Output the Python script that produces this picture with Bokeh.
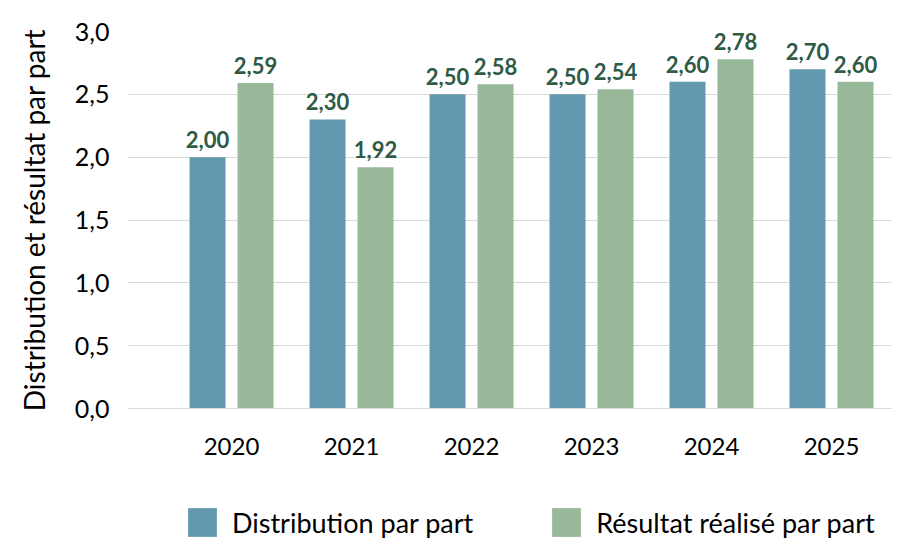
from bokeh.plotting import figure
from bokeh.layouts import column
from bokeh.models import (Range1d, FixedTicker, Legend, LegendItem, ColumnDataSource,
                          CustomJSTickFormatter, LabelSet)
from bokeh.core.properties import value
from bokeh.transform import dodge
from bokeh.embed import file_html
from bokeh.resources import INLINE

years = ["2020", "2021", "2022", "2023", "2024", "2025"]
distribution = [2.00, 2.30, 2.50, 2.50, 2.60, 2.70]
resultat = [2.59, 1.92, 2.58, 2.54, 2.78, 2.60]
y_ticks = [0.0, 0.5, 1.0, 1.5, 2.0, 2.5, 3.0]
series_names = ["Distribution par part", "Résultat réalisé par part"]
y_title = "Distribution et résultat par part"

FONT = "Lato"
BLUE = "#6399AE"
GREEN = "#98B999"
LABEL = "#2E5A46"

xs = list(range(len(years)))
src = ColumnDataSource(dict(
    x=xs,
    dist=distribution,
    res=resultat,
    dist_lbl=[f"{v:.2f}".replace(".", ",") for v in distribution],
    res_lbl=[f"{v:.2f}".replace(".", ",") for v in resultat],
))

p = figure(frame_width=764, frame_height=377,
           x_range=Range1d(-0.867, 5.5), y_range=Range1d(0, 3.0),
           output_backend="svg", toolbar_location=None,
           min_border_left=127, min_border_right=8,
           min_border_top=31, min_border_bottom=56)
p.outline_line_color = None
p.background_fill_color = "white"

r1 = p.vbar(x=dodge("x", -0.2, range=p.x_range), top="dist", width=0.3,
            source=src, fill_color=BLUE, line_color=None)
r2 = p.vbar(x=dodge("x", 0.2, range=p.x_range), top="res", width=0.3,
            source=src, fill_color=GREEN, line_color=None)

for col, lbl, off in (("dist", "dist_lbl", -0.2), ("res", "res_lbl", 0.2)):
    p.add_layout(LabelSet(x=dodge("x", off, range=p.x_range), y=col, text=lbl,
                          source=src, text_align="center",
                          text_baseline="alphabetic", y_offset=9,
                          text_font=value(FONT), text_font_style="bold",
                          text_font_size="22px", text_color=LABEL))

# axes
p.xaxis.ticker = FixedTicker(ticks=xs)
p.xaxis.major_label_overrides = {i: y for i, y in enumerate(years)}
p.xaxis.major_tick_line_color = None
p.xaxis.minor_tick_line_color = None
p.xaxis.axis_line_color = "#D9D9D9"
p.xaxis.major_label_standoff = 23
p.xaxis.major_label_text_font = FONT
p.xaxis.major_label_text_font_size = "24px"
p.xaxis.major_label_text_color = "black"

p.yaxis.ticker = FixedTicker(ticks=y_ticks)
p.yaxis.formatter = CustomJSTickFormatter(code="return tick.toFixed(1).replace('.', ',');")
p.yaxis.major_tick_line_color = None
p.yaxis.minor_tick_line_color = None
p.yaxis.axis_line_color = None
p.yaxis.major_label_standoff = 12
p.yaxis.major_label_text_font = FONT
p.yaxis.major_label_text_font_size = "25px"
p.yaxis.major_label_text_color = "black"
p.yaxis.axis_label = y_title
p.yaxis.axis_label_text_font = FONT
p.yaxis.axis_label_text_font_style = "normal"
p.yaxis.axis_label_text_font_size = "28px"
p.yaxis.axis_label_text_color = "black"
p.yaxis.axis_label_standoff = 21

p.xgrid.visible = False
p.ygrid.ticker = FixedTicker(ticks=y_ticks)
p.ygrid.grid_line_color = "#D9D9D9"
p.ygrid.grid_line_width = 1

# legend strip below the chart (same series, drawn only as legend swatches)
q = figure(width=899, height=76, x_range=Range1d(-0.867, 5.5), y_range=Range1d(10, 11),
           output_backend="svg", toolbar_location=None, min_border=0)
q.axis.visible = False
q.grid.visible = False
q.outline_line_color = None
q1 = q.vbar(x="x", top="dist", width=0.3, source=src, fill_color=BLUE, line_color=None)
q2 = q.vbar(x="x", top="res", width=0.3, source=src, fill_color=GREEN, line_color=None)

legend = Legend(items=[LegendItem(label=series_names[0], renderers=[q1]),
                       LegendItem(label=series_names[1], renderers=[q2])],
                orientation="horizontal", location=(57, 0),
                margin=0, padding=0, border_line_color=None,
                background_fill_alpha=0, glyph_width=36, glyph_height=36,
                label_standoff=12, spacing=75,
                label_text_font=FONT, label_text_font_size="27px",
                label_text_color="black")
q.add_layout(legend, "center")

open("out.html", "w").write(file_html(column(p, q, spacing=0), INLINE))
